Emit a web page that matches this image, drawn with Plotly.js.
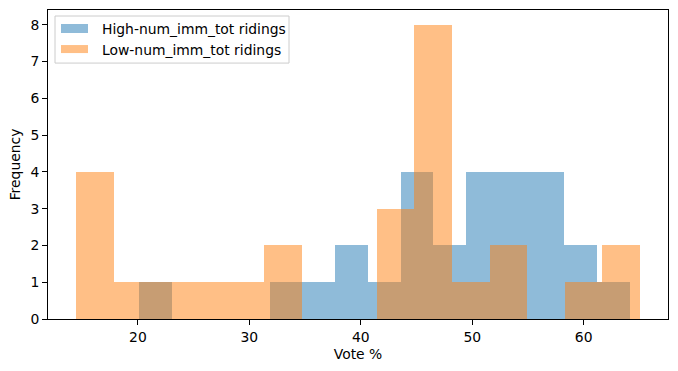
<!DOCTYPE html>
<html>
<head>
<meta charset="utf-8">
<script src="https://cdn.plot.ly/plotly-3.0.1.min.js"></script>
<style>html,body{margin:0;padding:0;background:#fff;}#chart{width:678px;height:371px;}</style>
</head>
<body>
<div id="chart"></div>
<script>
// Data
const seriesNames = ["High-num_imm_tot ridings", "Low-num_imm_tot ridings"];
const highBinStart = 20.11;
const highBinWidth = 2.935;
const highCounts = [1, 0, 0, 0, 1, 1, 2, 1, 4, 2, 4, 4, 4, 2, 1];
const lowBinStart = 14.46;
const lowBinWidth = 3.372;
const lowCounts = [4, 1, 1, 1, 1, 2, 0, 0, 3, 8, 1, 2, 0, 1, 2];
const xTicks = [20, 30, 40, 50, 60];
const yTicks = [0, 1, 2, 3, 4, 5, 6, 7, 8];

function centers(start, w, n) {
  const c = [];
  for (let i = 0; i < n; i++) c.push(start + w * (i + 0.5));
  return c;
}

const blue = 'rgba(31,119,180,0.5)';
const orange = 'rgba(255,127,14,0.5)';
const font = {family: 'DejaVu Sans', size: 13.9, color: '#000'};

const traces = [
  {type: 'bar', name: seriesNames[0], x: centers(highBinStart, highBinWidth, highCounts.length),
   y: highCounts, width: highBinWidth, marker: {color: blue, line: {width: 0}}, hoverinfo: 'x+y'},
  {type: 'bar', name: seriesNames[1], x: centers(lowBinStart, lowBinWidth, lowCounts.length),
   y: lowCounts, width: lowBinWidth, marker: {color: orange, line: {width: 0}}, hoverinfo: 'x+y'}
];

const L = 48, R = 668, T = 10, B = 318.6;
const px = v => (v - L) / (R - L);
const py = v => (B - v) / (B - T);

const layout = {
  width: 678, height: 371,
  margin: {l: 48, r: 10, t: 10, b: 52.4, pad: 0},
  paper_bgcolor: '#fff', plot_bgcolor: '#fff',
  barmode: 'overlay', bargap: 0,
  showlegend: false,
  font: font,
  xaxis: {
    range: [11.93, 67.57], tickvals: xTicks, ticktext: xTicks.map(String),
    showgrid: false, zeroline: false, showline: true, mirror: true, linecolor: '#000', linewidth: 1,
    ticks: 'outside', ticklen: 5, tickwidth: 1, tickcolor: '#000', tickfont: font,
    title: {text: 'Vote %', font: font, standoff: 5}
  },
  yaxis: {
    range: [0, 8.4], tickvals: yTicks, ticktext: yTicks.map(String),
    showgrid: false, zeroline: false, showline: true, mirror: true, linecolor: '#000', linewidth: 1,
    ticks: 'outside', ticklen: 5, tickwidth: 1, tickcolor: '#000', tickfont: font,
    title: {text: 'Frequency', font: font, standoff: 6}
  },
  shapes: [
    {type: 'rect', xref: 'paper', yref: 'paper', x0: px(55), x1: px(289), y0: py(63), y1: py(16),
     line: {color: '#cccccc', width: 1}, fillcolor: 'rgba(255,255,255,0.8)', layer: 'above'},
    {type: 'rect', xref: 'paper', yref: 'paper', x0: px(61), x1: px(88), y0: py(33), y1: py(24),
     line: {width: 0}, fillcolor: blue, layer: 'above'},
    {type: 'rect', xref: 'paper', yref: 'paper', x0: px(61), x1: px(88), y0: py(53), y1: py(45),
     line: {width: 0}, fillcolor: orange, layer: 'above'}
  ],
  annotations: [
    {xref: 'paper', yref: 'paper', x: px(100), y: py(29), xanchor: 'left', yanchor: 'middle',
     text: seriesNames[0], showarrow: false, font: font},
    {xref: 'paper', yref: 'paper', x: px(100), y: py(49.5), xanchor: 'left', yanchor: 'middle',
     text: seriesNames[1], showarrow: false, font: font}
  ]
};

Plotly.newPlot('chart', traces, layout, {staticPlot: true, displayModeBar: false});
</script>
</body>
</html>
